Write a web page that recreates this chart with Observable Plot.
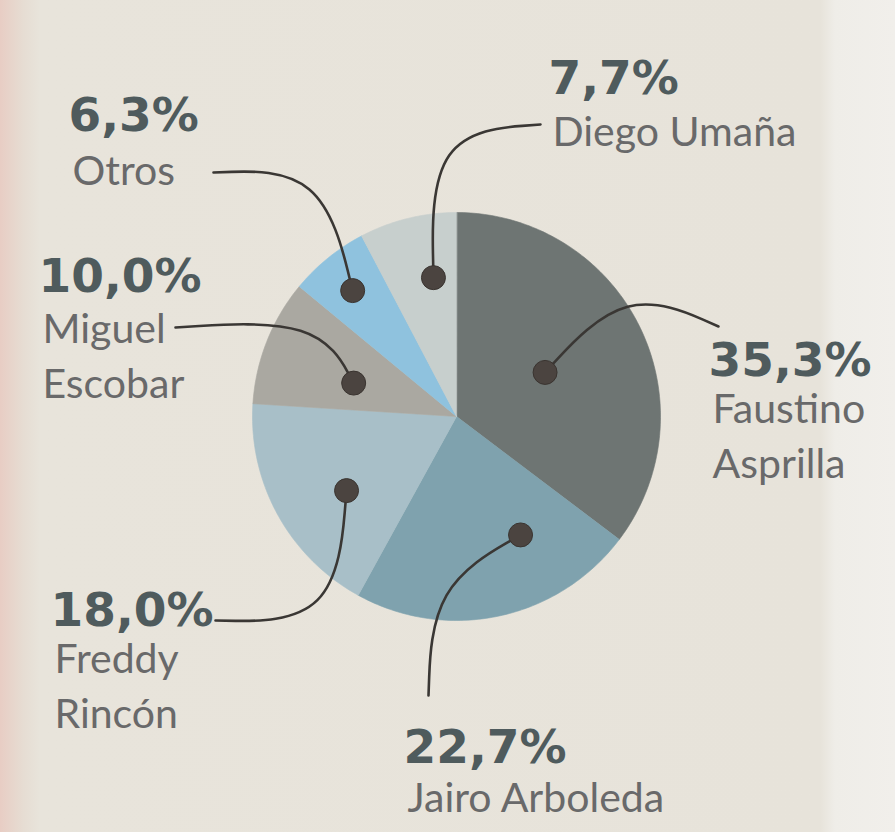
<!DOCTYPE html>
<html>
<head>
<meta charset="utf-8">
<script src="https://cdn.jsdelivr.net/npm/d3@7"></script>
<script src="https://cdn.jsdelivr.net/npm/@observablehq/plot@0.6"></script>
<style>
  html, body { margin: 0; padding: 0; }
  body {
    width: 895px; height: 832px; overflow: hidden;
    background: linear-gradient(to right, #e8cdc4 0px, #e6ddd3 24px, #e8e4db 40px, #e7e3da 820px, #efede8 835px, #f1efeb 895px);
  }
  #chart svg { display: block; background: transparent; }
</style>
</head>
<body>
<div id="chart"></div>
<script>
// ---- data ----
const names = ["Faustino Asprilla", "Jairo Arboleda", "Freddy Rincón", "Miguel Escobar", "Otros", "Diego Umaña"];
const shares = [35.3, 22.7, 18.0, 10.0, 6.3, 7.7];
const pctLabels = ["35,3%", "22,7%", "18,0%", "10,0%", "6,3%", "7,7%"];
const nameLabels = ["Faustino\nAsprilla", "Jairo Arboleda", "Freddy\nRincón", "Miguel\nEscobar", "Otros", "Diego Umaña"];
const sliceColors = ["#6e7573", "#7fa2ae", "#a8bfc8", "#aaa8a1", "#8fc2de", "#c7cfcd"];

// ---- layout (annotation placement) ----
const W = 895, H = 832;
const pie = {cx: 456, cy: 416, r: 204};
const dotFrac = [0.50, 0.30, 0.42, 0.40, 0.48, 0.66];     // position within the slice's angle span
const dotRad = [0.485, 0.66, 0.65, 0.53, 0.80, 0.69];     // fraction of radius
const labelPos = [[708, 375], [403, 762], [50, 625], [38, 291], [68, 130], [548, 93]];
const nameGap = [8, 10, 8, 12, 15, 13];
const leaderCtrl = [[625, 285], [432, 585], [335, 622], [318, 318], [322, 168], [430, 132]];
const leaderEnd = [[718, 326], [428, 695], [215, 620], [175, 327], [213, 172], [540, 124]];

// ---- build geometry from values ----
const total = d3.sum(shares);
let acc = 0;
const slices = shares.map((v, i) => {
  const a0 = acc / total * 360; acc += v;
  const a1 = acc / total * 360;
  return {name: names[i], a0, a1, i};
});
const toXY = (deg, rr) => {
  const t = deg * Math.PI / 180;
  return [pie.cx + rr * Math.sin(t), pie.cy - rr * Math.cos(t)];
};
const polyPts = [];
slices.forEach(s => {
  polyPts.push({name: s.name, x: pie.cx, y: pie.cy});
  const n = Math.max(2, Math.ceil(s.a1 - s.a0));
  for (let k = 0; k <= n; k++) {
    const [x, y] = toXY(s.a0 + (s.a1 - s.a0) * k / n, pie.r);
    polyPts.push({name: s.name, x, y});
  }
});
const dots = slices.map(s => {
  const [x, y] = toXY(s.a0 + (s.a1 - s.a0) * dotFrac[s.i], pie.r * dotRad[s.i]);
  return {name: s.name, x, y, i: s.i};
});
const leaderPts = [];
dots.forEach(d => {
  leaderPts.push({name: d.name, x: d.x, y: d.y});
  leaderPts.push({name: d.name, x: leaderCtrl[d.i][0], y: leaderCtrl[d.i][1]});
  leaderPts.push({name: d.name, x: leaderEnd[d.i][0], y: leaderEnd[d.i][1]});
});
const pctData = names.map((n, i) => ({x: labelPos[i][0], y: labelPos[i][1], t: pctLabels[i]}));
const nameData = names.map((n, i) => ({x: labelPos[i][0] + 4, y: labelPos[i][1] + nameGap[i], t: nameLabels[i]}));

const chart = Plot.plot({
  width: W, height: H,
  margin: 0,
  x: {domain: [0, W], range: [0, W], axis: null},
  y: {domain: [0, H], range: [0, H], axis: null},
  color: {domain: names, range: sliceColors},
  style: {background: "transparent", fontFamily: "Lato, sans-serif"},
  marks: [
    Plot.line(polyPts, {x: "x", y: "y", z: "name", fill: "name", stroke: "name", strokeWidth: 0.6, curve: "linear-closed"}),
    Plot.line(leaderPts, {x: "x", y: "y", z: "name", stroke: "#3a3734", strokeWidth: 2.6, curve: "basis"}),
    Plot.dot(dots, {x: "x", y: "y", r: 12, fill: "#4b4440", stroke: "#3a3430", strokeWidth: 1}),
    Plot.text(pctData, {x: "x", y: "y", text: "t", textAnchor: "start", lineAnchor: "bottom", fontSize: 47, fontWeight: "bold", fontFamily: "DejaVu Sans, sans-serif", letterSpacing: -1, fill: "#4f5b5d"}),
    Plot.text(nameData, {x: "x", y: "y", text: "t", textAnchor: "start", lineAnchor: "top", fontSize: 41, lineHeight: 1.35, letterSpacing: 0.5, fill: "#69696a"})
  ]
});
document.getElementById("chart").appendChild(chart);
</script>
</body>
</html>
